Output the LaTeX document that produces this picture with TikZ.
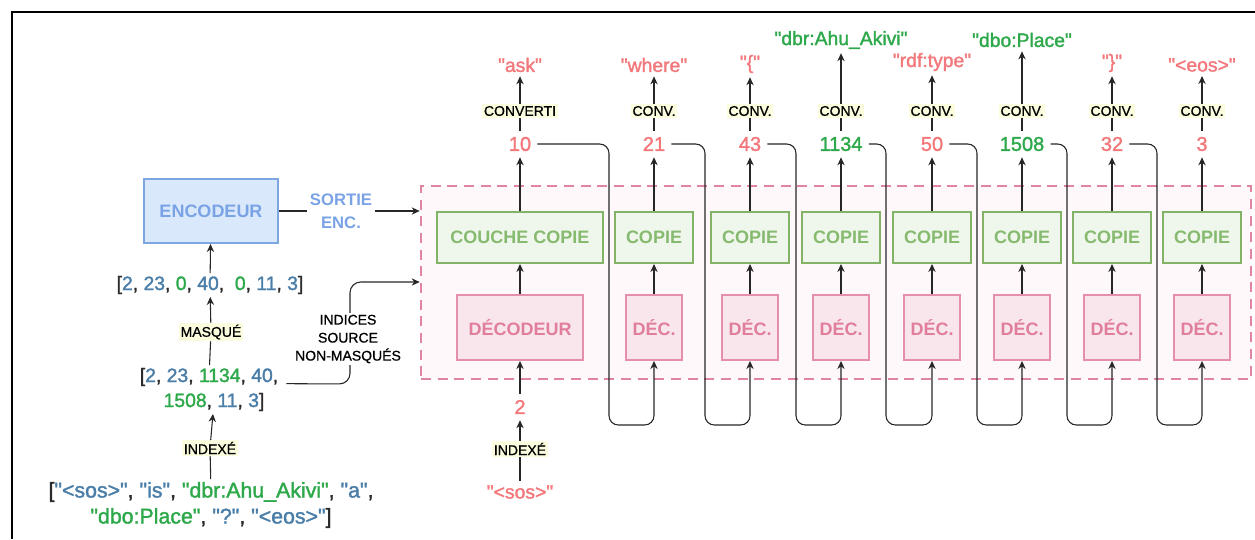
\documentclass[tikz,border=0pt]{standalone}
\usepackage{fontspec}
\setmainfont{Liberation Sans}[Ligatures=TeXOff]
\newfontfamily\medfont{Liberation Sans}[Ligatures=TeXOff, FakeBold=1.6]
\newfontfamily\lblfont{Liberation Sans}[Ligatures=TeXOff, FakeBold=0.8]
\usetikzlibrary{arrows.meta}
\definecolor{encfill}{HTML}{DAE8FC}
\definecolor{encline}{HTML}{7EA6E0}
\definecolor{enctext}{HTML}{7AA3E6}
\definecolor{copyfill}{HTML}{EFF7ED}
\definecolor{copyline}{HTML}{82B366}
\definecolor{copytext}{HTML}{86BA6E}
\definecolor{decfill}{HTML}{F9E6ED}
\definecolor{decline}{HTML}{E68FAA}
\definecolor{dectext}{HTML}{E07E9C}
\definecolor{regfill}{HTML}{FEF8FA}
\definecolor{regline}{HTML}{E0849F}
\definecolor{tred}{HTML}{F2787B}
\definecolor{tgreen}{HTML}{2DA84A}
\definecolor{tblue}{HTML}{4A7EA8}
\definecolor{tdark}{HTML}{2B2B2B}
\definecolor{lblbg}{HTML}{FCFCDF}
\definecolor{linec}{HTML}{262626}
\newcommand\blu[1]{\textcolor{tblue}{#1}}
\newcommand\grn[1]{\textcolor{tgreen}{#1}}
\tikzset{
  lbl/.style={fill=lblbg, inner sep=1.2pt, text=black, font=\lblfont\fontsize{10.5}{12}\selectfont},
  plain/.style={inner sep=1.5pt, text=black, font=\lblfont\fontsize{10.5}{13.5}\selectfont, align=center, fill=white},
  lst/.style={text=tdark, font=\medfont\fontsize{14.5}{17}\selectfont, inner sep=2pt},
  blst/.style={text=tdark, font=\medfont\fontsize{16}{19}\selectfont, inner sep=2pt},
  numr/.style={text=tred, font=\medfont\fontsize{15}{17}\selectfont, inner sep=4.5pt},
  numg/.style={numr, text=tgreen},
  tokr/.style={text=tred, font=\medfont\fontsize{14.5}{17}\selectfont, inner sep=3pt},
  tokg/.style={tokr, text=tgreen},
  encbox/.style={draw=encline, fill=encfill, line width=1.5pt, text=enctext, font=\bfseries\fontsize{13.5}{16}\selectfont, minimum width=100.5pt, minimum height=48pt, inner sep=0pt},
  copybox/.style={draw=copyline, fill=copyfill, line width=1.5pt, text=copytext, font=\bfseries\fontsize{13.5}{16}\selectfont, minimum width=58.5pt, minimum height=38.25pt, inner sep=0pt},
  decbox/.style={draw=decline, fill=decfill, line width=1.5pt, text=dectext, font=\bfseries\fontsize{13.5}{16}\selectfont, minimum width=42pt, minimum height=48.75pt, inner sep=0pt},
  region/.style={draw=regline, fill=regfill, line width=2pt, dash pattern=on 7.5pt off 5pt, minimum width=622.5pt, minimum height=144.75pt, inner sep=0pt},
  sortie/.style={text=enctext, font=\bfseries\fontsize{12.5}{17}\selectfont, align=center, inner sep=2pt},
  ln/.style={line width=0.8pt, draw=linec},
  arr/.style={ln, -{Stealth[length=6pt,width=5.5pt]}},
  loop/.style={arr, rounded corners=7pt},
}
\begin{document}
\begin{tikzpicture}[x=0.75pt, y=-0.75pt]
\useasboundingbox (0,0) rectangle (1255,539);
% frame
\draw[line width=0.9pt, draw=black] (12,539) -- (12,12) -- (1255,12);

% region
\node[region] (reg) at (836,282.5) {};

% left column
\node[encbox] (enc) at (211,211) {ENCODEUR};
\node[sortie] (sortie) at (341,211) {SORTIE\\ENC.};
\node[lst] (l1) at (210,285) {[\blu{2}, \blu{23}, \grn{0}, \blu{40}, \ \grn{0}, \blu{11}, \blu{3}]};
\node[lbl] (masq) at (211,332) {MASQUÉ};
\node[lst] (l2a) at (209,377) {[\blu{2}, \blu{23}, \grn{1134}, \blu{40},};
\node[lst] (l2b) at (214,402) {\grn{1508}, \blu{11}, \blu{3}]};
\node[lbl] (idx1) at (210,448) {INDEXÉ};
\node[blst] (l3a) at (211,492) {[\blu{"<sos>"}, \blu{"is"}, \grn{"dbr:Ahu\_Akivi"}, \blu{"a"},};
\node[blst] (l3b) at (211,518) {\grn{"dbo:Place"}, \blu{"?"}, \blu{"<eos>"}]};

\draw[ln] (l3a) -- (idx1);
\draw[arr] (idx1) -- (l2b);
\draw[ln] (l2a) -- (masq);
\draw[arr] (masq) -- (l1);
\draw[arr] (l1) -- (enc);
\draw[ln] (enc.east) -- (sortie.west);
\draw[arr] (sortie.east) -- (reg.west |- sortie.east);
\draw[arr, rounded corners=8pt] ([xshift=4pt,yshift=-5pt]l2a.east) -- (350,384) -- (350,282) -- (reg.west |- 0,282);
\node[plain] (ind) at (348,339) {INDICES\\SOURCE\\NON-MASQUÉS};

% column 1
\node[copybox, minimum width=124.5pt] (c1) at (520,237.5) {COUCHE COPIE};
\node[decbox, minimum width=94.5pt] (d1) at (520,327.5) {DÉCODEUR};
\node[numr] (in) at (520,407) {2};
\node[lbl] (idx2) at (520,449) {INDEXÉ};
\node[tokr] (sos) at (520,492) {"<sos>"};
\draw[ln] (sos) -- (idx2);
\draw[arr] (idx2) -- (in);
\draw[arr] (in) -- (d1);

% other columns
\node[copybox] (c2) at (654,237.5) {COPIE};
\node[copybox] (c3) at (750,237.5) {COPIE};
\node[copybox] (c4) at (841,237.5) {COPIE};
\node[copybox] (c5) at (932,237.5) {COPIE};
\node[copybox] (c6) at (1022,237.5) {COPIE};
\node[copybox] (c7) at (1112,237.5) {COPIE};
\node[copybox] (c8) at (1202,237.5) {COPIE};
\node[decbox] (d2) at (654,327.5) {DÉC.};
\node[decbox] (d3) at (750,327.5) {DÉC.};
\node[decbox] (d4) at (841,327.5) {DÉC.};
\node[decbox] (d5) at (932,327.5) {DÉC.};
\node[decbox] (d6) at (1022,327.5) {DÉC.};
\node[decbox] (d7) at (1112,327.5) {DÉC.};
\node[decbox] (d8) at (1202,327.5) {DÉC.};

% numbers
\node[numr] (n1) at (520,144) {10};
\node[numr] (n2) at (654,144) {21};
\node[numr] (n3) at (750,144) {43};
\node[numg] (n4) at (841,144) {1134};
\node[numr] (n5) at (932,144) {50};
\node[numg] (n6) at (1022,144) {1508};
\node[numr] (n7) at (1112,144) {32};
\node[numr] (n8) at (1202,144) {3};

% conv labels
\node[lbl] (k1) at (520,111) {CONVERTI};
\node[lbl] (k2) at (654,111) {CONV.};
\node[lbl] (k3) at (750,111) {CONV.};
\node[lbl] (k4) at (841,111) {CONV.};
\node[lbl] (k5) at (932,111) {CONV.};
\node[lbl] (k6) at (1022,111) {CONV.};
\node[lbl] (k7) at (1112,111) {CONV.};
\node[lbl] (k8) at (1202,111) {CONV.};

% tokens
\node[tokr] (t1) at (520,65) {"ask"};
\node[tokr] (t2) at (654,65) {"where"};
\node[tokr] (t3) at (750,64) {"\{"};
\node[tokg] (t4) at (841,40) {"dbr:Ahu\_Akivi"};
\node[tokr] (t5) at (932,62) {"rdf:type"};
\node[tokg] (t6) at (1022,40) {"dbo:Place"};
\node[tokr] (t7) at (1112,63) {"\}"};
\node[tokr] (t8) at (1202,65) {"<eos>"};

\foreach \i in {1,...,8}{
  \draw[arr] (d\i) -- (c\i);
  \draw[arr] (c\i) -- (n\i);
  \draw[ln] (n\i) -- (k\i);
  \draw[arr] (k\i) -- (t\i);
}

% feedback loops
\draw[loop] (n1.east) -- (609,144) -- (609,425) -- (654,425) -- (d2.south);
\draw[loop] (n2.east) -- (705,144) -- (705,425) -- (750,425) -- (d3.south);
\draw[loop] (n3.east) -- (796,144) -- (796,425) -- (841,425) -- (d4.south);
\draw[loop] (n4.east) -- (886,144) -- (886,425) -- (932,425) -- (d5.south);
\draw[loop] (n5.east) -- (977,144) -- (977,425) -- (1022,425) -- (d6.south);
\draw[loop] (n6.east) -- (1067,144) -- (1067,425) -- (1112,425) -- (d7.south);
\draw[loop] (n7.east) -- (1157,144) -- (1157,425) -- (1202,425) -- (d8.south);
\end{tikzpicture}
\end{document}
